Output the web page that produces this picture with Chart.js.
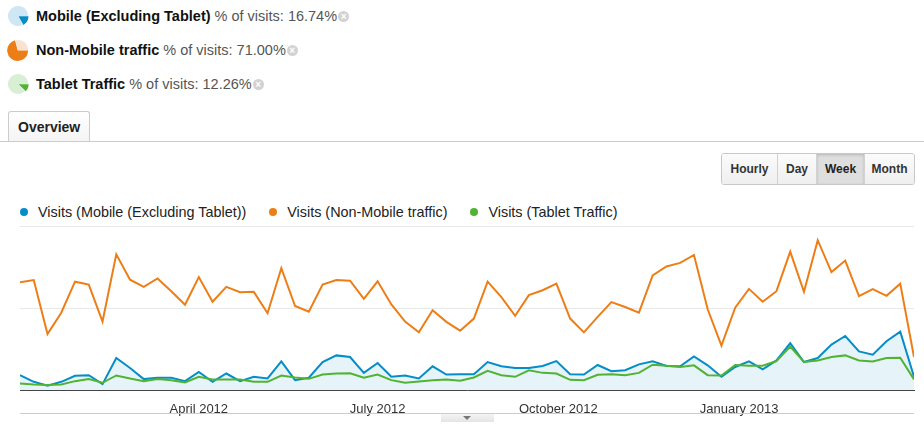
<!DOCTYPE html>
<html>
<head>
<meta charset="utf-8">
<script src="https://cdn.jsdelivr.net/npm/chart.js@4.4.1/dist/chart.umd.min.js"></script>
<style>
body { margin: 0; background: #fff; font-family: Arial, "Liberation Sans", sans-serif; }
#page { position: relative; width: 924px; height: 426px; overflow: hidden; }
.seg { position: absolute; left: 0; height: 22px; width: 400px; }
.seg canvas { position: absolute; left: 7px; top: 0; }
.seg .txt { position: absolute; left: 36px; top: 0; line-height: 22px; font-size: 14.5px; white-space: nowrap; color: #555; }
.seg b { color: #111; }
.close { display: inline-block; width: 11px; height: 11px; border-radius: 50%; background: #d2d2d2; color: #fff;
  font-size: 10px; line-height: 11px; text-align: center; vertical-align: 1px; margin-left: 1px; font-weight: bold; }
#tab { position: absolute; left: 8px; top: 111px; width: 82px; height: 30px; box-sizing: border-box;
  border: 1px solid #ccc; border-bottom: none; border-radius: 3px 3px 0 0;
  background: linear-gradient(#fff, #f4f4f4); font-weight: bold; font-size: 14px; color: #222;
  line-height: 30px; padding-left: 9px; }
#tabline { position: absolute; left: 0; top: 141px; width: 924px; height: 1px; background: #ccc; }
#btns { position: absolute; left: 721px; top: 153px; height: 32px; display: flex; box-sizing: border-box;
  border: 1px solid #c8c8c8; border-radius: 3px; overflow: hidden; }
#btns div { box-sizing: border-box; height: 30px; line-height: 30px; text-align: center; font-size: 12px;
  font-weight: bold; color: #333; background: linear-gradient(#fbfbfb, #efefef); border-left: 1px solid #d2d2d2; }
#btns div:first-child { border-left: none; }
#btns div.on { background: #dedede; box-shadow: inset 0 1px 3px rgba(0,0,0,0.18); color: #222; }
#legend { position: absolute; left: 20px; top: 203px; height: 18px; line-height: 18px; font-size: 14.4px; color: #222; white-space: nowrap; }
#legend .item { display: inline-block; margin-right: 23px; }
#legend .dot { display: inline-block; width: 8px; height: 8px; border-radius: 50%; margin-right: 10px; vertical-align: 1px; }
#wrap { position: absolute; left: 0; top: 220px; width: 924px; height: 200px; }
#bottomline { position: absolute; left: 20px; top: 413px; width: 894px; height: 1px; background: #ccc; }
#pull { position: absolute; left: 441px; top: 414px; width: 53px; height: 8px; background: linear-gradient(#f4f4f4, #e4e4e4); }
#pull:after { content: ""; position: absolute; left: 22px; top: 2px; border-left: 4px solid transparent;
  border-right: 4px solid transparent; border-top: 4px solid #777; }
</style>
</head>
<body>
<div id="page">
  <div class="seg" style="top:5px"><canvas id="pie0" width="22" height="22"></canvas><div class="txt"><b>Mobile (Excluding Tablet)</b> % of visits: 16.74%<span class="close">×</span></div></div>
  <div class="seg" style="top:39px"><canvas id="pie1" width="22" height="22"></canvas><div class="txt"><b>Non-Mobile traffic</b> % of visits: 71.00%<span class="close">×</span></div></div>
  <div class="seg" style="top:73px"><canvas id="pie2" width="22" height="22"></canvas><div class="txt"><b>Tablet Traffic</b> % of visits: 12.26%<span class="close">×</span></div></div>

  <div id="tabline"></div>
  <div id="tab">Overview</div>

  <div id="btns">
    <div style="width:55px">Hourly</div>
    <div style="width:39px">Day</div>
    <div class="on" style="width:48px">Week</div>
    <div style="width:50px">Month</div>
  </div>

  <div id="legend"></div>
  <div id="wrap"><canvas id="chart" width="924" height="200"></canvas></div>
  <div id="bottomline"></div>
  <div id="pull"></div>
</div>
<script>
// segments
const segNames = ['Mobile (Excluding Tablet)', 'Non-Mobile traffic', 'Tablet Traffic'];
const segShare = [16.74, 71.00, 12.26];
const segColors = ['#058dc7', '#ed7e17', '#50b432'];
const segLight = ['#cfe6f4', '#fbe2cf', '#d9efd3'];

// weeks (Sunday starts)
const weeks = [
  '2012-01-01','2012-01-08','2012-01-15','2012-01-22','2012-01-29',
  '2012-02-05','2012-02-12','2012-02-19','2012-02-26',
  '2012-03-04','2012-03-11','2012-03-18','2012-03-25',
  '2012-04-01','2012-04-08','2012-04-15','2012-04-22','2012-04-29',
  '2012-05-06','2012-05-13','2012-05-20','2012-05-27',
  '2012-06-03','2012-06-10','2012-06-17','2012-06-24',
  '2012-07-01','2012-07-08','2012-07-15','2012-07-22','2012-07-29',
  '2012-08-05','2012-08-12','2012-08-19','2012-08-26',
  '2012-09-02','2012-09-09','2012-09-16','2012-09-23','2012-09-30',
  '2012-10-07','2012-10-14','2012-10-21','2012-10-28',
  '2012-11-04','2012-11-11','2012-11-18','2012-11-25',
  '2012-12-02','2012-12-09','2012-12-16','2012-12-23','2012-12-30',
  '2013-01-06','2013-01-13','2013-01-20','2013-01-27',
  '2013-02-03','2013-02-10','2013-02-17','2013-02-24',
  '2013-03-03','2013-03-10','2013-03-17','2013-03-24','2013-03-31'
];

const mobileVisits = [
  181,100,52,100,173,181,72,390,269,133,149,149,108,221,100,201,108,161,141,349,120,149,
  341,422,402,209,329,161,177,141,289,189,193,193,341,289,269,269,293,353,193,189,305,229,
  241,313,349,293,289,410,301,161,281,349,253,361,570,341,390,554,659,470,430,594,711,161
];
const nonMobileVisits = [
  1313,1341,683,943,1321,1285,835,1654,1345,1257,1361,1205,1040,1377,1076,1257,1193,1197,936,1486,1024,955,
  1285,1341,1333,1112,1325,1044,835,703,972,831,723,871,1321,1133,904,1157,1217,1297,871,703,892,1072,
  1012,943,1398,1506,1550,1647,984,542,1004,1233,1076,1205,1687,1197,1827,1438,1578,1145,1229,1149,1297,402
];
const tabletVisits = [
  80,68,60,68,108,133,88,177,141,108,133,120,92,161,129,129,129,100,100,177,153,136,
  189,201,205,149,189,120,88,104,120,129,112,153,233,181,161,241,209,201,124,120,185,193,
  181,209,309,297,281,301,181,177,305,297,297,353,530,341,361,402,422,361,349,390,394,129
];

const tickDates = ['2012-04-01', '2012-07-01', '2012-10-01', '2013-01-01'];
const tickLabels = ['April 2012', 'July 2012', 'October 2012', 'January 2013'];

const WEEK = 7 * 24 * 3600 * 1000;
const t0 = Date.parse(weeks[0]);
const toX = d => (Date.parse(d) - t0) / WEEK;
const tickPos = tickDates.map(toX);

// little pies next to the segment names
segShare.forEach((pct, i) => {
    new Chart(document.getElementById('pie' + i), {
        type: 'pie',
        data: {
            datasets: [{
                data: [pct, 100 - pct],
                backgroundColor: [segColors[i], segLight[i]],
                borderWidth: 0,
                offset: [2, 0]
            }]
        },
        options: {
            responsive: false,
            animation: false,
            events: [],
            rotation: 90,
            plugins: { legend: { display: false }, tooltip: { enabled: false } }
        }
    });
});

const series = [
    { label: 'Visits (' + segNames[0] + ')', values: mobileVisits, color: segColors[0], fill: true, order: 1 },
    { label: 'Visits (' + segNames[1] + ')', values: nonMobileVisits, color: segColors[1], fill: false, order: 2 },
    { label: 'Visits (' + segNames[2] + ')', values: tabletVisits, color: segColors[2], fill: false, order: 0 }
];

// html legend
const legend = document.getElementById('legend');
series.forEach(s => {
    const item = document.createElement('span');
    item.className = 'item';
    item.innerHTML = '<span class="dot" style="background:' + s.color + '"></span>' + s.label;
    legend.appendChild(item);
});

new Chart(document.getElementById('chart'), {
    type: 'line',
    data: {
        datasets: series.map(s => ({
            label: s.label,
            data: s.values.map((v, i) => ({ x: toX(weeks[i]), y: v })),
            borderColor: s.color,
            backgroundColor: s.fill ? 'rgba(5,141,199,0.1)' : s.color,
            fill: s.fill ? 'origin' : false,
            borderWidth: 2,
            pointRadius: 0,
            tension: 0,
            order: s.order
        }))
    },
    options: {
        responsive: false,
        animation: false,
        events: [],
        layout: { padding: { left: 20, right: 10, top: 6, bottom: 0 } },
        plugins: { legend: { display: false }, tooltip: { enabled: false } },
        scales: {
            x: {
                type: 'linear',
                min: 0,
                max: weeks.length - 1,
                grid: { display: false },
                border: { display: true, color: '#444', width: 1 },
                afterBuildTicks: scale => { scale.ticks = tickPos.map(v => ({ value: v })); },
                afterFit: scale => { scale.height = 30; },
                ticks: {
                    autoSkip: false,
                    maxRotation: 0,
                    padding: 4,
                    color: '#333',
                    font: { family: 'Arial, "Liberation Sans", sans-serif', size: 13 },
                    callback: value => {
                        const k = tickPos.findIndex(p => Math.abs(p - value) < 1e-6);
                        return k >= 0 ? tickLabels[k] : '';
                    }
                }
            },
            y: {
                min: 0,
                max: 2000,
                ticks: { display: false, stepSize: 1000 },
                grid: { color: '#e8e8e8', lineWidth: 1, drawTicks: false },
                border: { display: false },
                afterFit: scale => { scale.width = 0; }
            }
        }
    }
});
</script>
</body>
</html>
